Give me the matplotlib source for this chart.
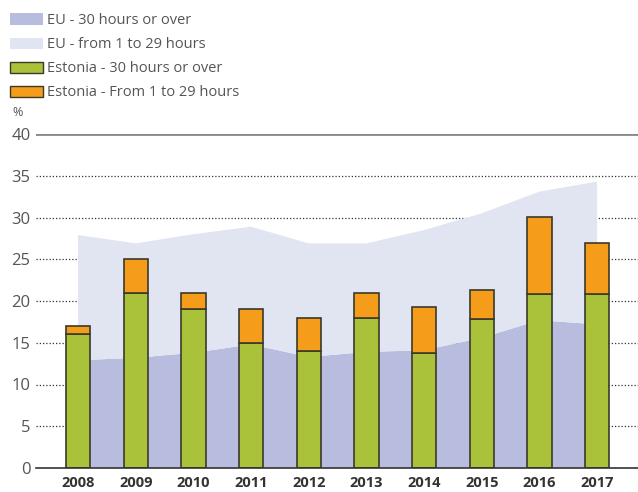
import matplotlib
matplotlib.use("Agg")
import matplotlib.pyplot as plt
from matplotlib.patches import Patch
import numpy as np

years = ["2008", "2009", "2010", "2011", "2012", "2013", "2014", "2015", "2016", "2017"]
est_30_over = [16, 21, 19, 15, 14, 18, 13.8, 17.8, 20.8, 20.8]
est_1_29 = [1, 4, 2, 4, 4, 3, 5.5, 3.5, 9.3, 6.2]
eu_30_over = [12.9, 13.2, 13.8, 14.8, 13.3, 13.9, 14.1, 15.6, 17.7, 17.2]
eu_total = [27.9, 26.9, 28.0, 28.9, 26.9, 26.9, 28.5, 30.5, 33.1, 34.3]
eu_1_29 = [t - a for t, a in zip(eu_total, eu_30_over)]
yticks = [0, 5, 10, 15, 20, 25, 30, 35, 40]

plt.rcParams['font.family'] = ['Open Sans', 'DejaVu Sans']

c_eu_dark = "#b8bde0"
c_eu_light = "#e1e4f1"
c_green = "#a9c23a"
c_orange = "#f59c1a"
c_edge = "#3a3a2a"
c_text = "#555555"

fig = plt.figure(figsize=(6.38, 4.92), dpi=100)
ax = fig.add_axes([36/638, 1 - 468/492, 1 - 36/638, (468 - 134)/492])

x = np.arange(len(years))

# gridlines
for t in yticks[1:-1]:
    ax.axhline(t, color="#333333", lw=0.9, ls=(0, (1.0, 1.6)), zorder=0)
ax.axhline(40, color="#888888", lw=2.0, zorder=0)

ax.stackplot(x, eu_30_over, eu_1_29, colors=[c_eu_dark, c_eu_light], lw=0, zorder=1)

w = 0.42
ax.bar(x, est_30_over, width=w, color=c_green, edgecolor=c_edge, lw=1.2, zorder=3)
ax.bar(x, est_1_29, width=w, bottom=est_30_over, color=c_orange, edgecolor=c_edge, lw=1.2, zorder=3)

ax.set_xlim(-0.73, 9.71)
ax.set_ylim(0, 40)
ax.set_yticks(yticks)
ax.set_yticklabels([str(t) for t in yticks], fontsize=12, color=c_text)
ax.set_xticks(x)
ax.set_xticklabels(years, fontsize=10.5, fontweight="bold", color="#333333")
ax.tick_params(axis="both", length=0)
ax.tick_params(axis="y", pad=4)
ax.tick_params(axis="x", pad=6)
for s in ["top", "right", "left"]:
    ax.spines[s].set_visible(False)
ax.spines["bottom"].set_color("#333333")
ax.spines["bottom"].set_linewidth(1.2)
ax.spines["bottom"].set_zorder(4)

fig.text(12/638, 1 - 113/492, "%", fontsize=9, color=c_text, va="center", ha="left")

handles = [
    Patch(facecolor=c_eu_dark, edgecolor="none", label="EU - 30 hours or over"),
    Patch(facecolor=c_eu_light, edgecolor="none", label="EU - from 1 to 29 hours"),
    Patch(facecolor=c_green, edgecolor=c_edge, lw=1.0, label="Estonia - 30 hours or over"),
    Patch(facecolor=c_orange, edgecolor=c_edge, lw=1.0, label="Estonia - From 1 to 29 hours"),
]
leg = fig.legend(handles=handles, loc="upper left", bbox_to_anchor=(-0.005, 1.0), frameon=False,
                 fontsize=10.5, handlelength=2.3, handleheight=0.8, handletextpad=0.25,
                 labelspacing=0.62, borderaxespad=0.5)
for t in leg.get_texts():
    t.set_color(c_text)

fig.savefig("out.png", dpi=100)
